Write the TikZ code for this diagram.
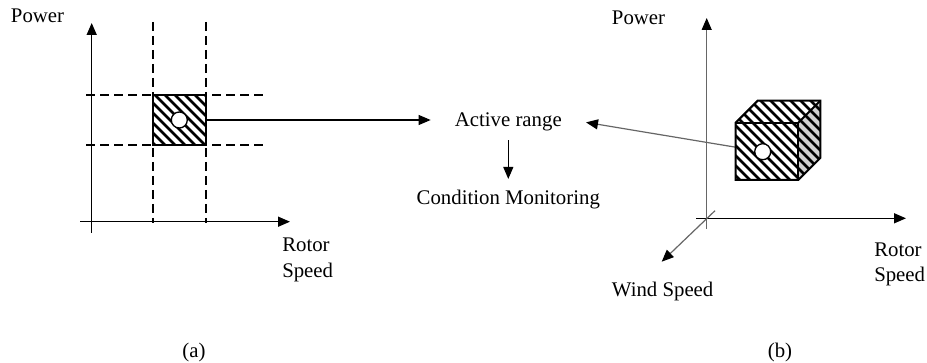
\documentclass[tikz,border=0pt]{standalone}
\usepackage{fontspec}
\setmainfont{Liberation Serif}
\usetikzlibrary{arrows.meta}
\begin{document}
\begin{tikzpicture}[x=0.75pt,y=-0.75pt,
  lbl/.style={font=\fontsize{15.6}{18}\selectfont, inner sep=0pt},
  axis/.style={line width=1.1pt,-{Triangle[length=9pt,width=7.5pt]}},
  gaxis/.style={line width=0.9pt,draw=black!60,-{Triangle[length=9pt,width=7.5pt,color=black]}},
  link/.style={line width=0.8pt,-{Triangle[length=9pt,width=7.5pt]}},
  glink/.style={line width=0.9pt,draw=black!60,-{Triangle[length=9pt,width=7.5pt,color=black]}},
  dsh/.style={line width=1.4pt,dash pattern=on 6.5pt off 4pt},
  hatch/.style={line width=2pt},
  frame/.style={line width=1.5pt},
  dot/.style={circle,draw,fill=white,line width=1pt,minimum size=12pt,inner sep=0pt}
  ]
\useasboundingbox (0,0) rectangle (927,363);

% ---------- texts ----------
\node[lbl,anchor=base west] (pa) at (10.7,22.7) {Power};
\node[lbl,anchor=base west] (ra1) at (282,252) {Rotor};
\node[lbl,anchor=base west] (ra2) at (282,277) {Speed};
\node[lbl,anchor=base] (la) at (194,357) {(a)};
\node[lbl,anchor=base west] (pb) at (611.7,25) {Power};
\node[lbl,anchor=base west] (rb1) at (874,257) {Rotor};
\node[lbl,anchor=base west] (rb2) at (874,281) {Speed};
\node[lbl,anchor=base west] (wb) at (611.7,296.7) {Wind Speed};
\node[lbl,anchor=base] (lb) at (780,357) {(b)};
\node[lbl,anchor=base,inner xsep=18pt,inner ysep=6.5pt] (ar) at (508.3,127) {Active range};
\node[lbl,anchor=base,inner ysep=8.5pt] (cm) at (508.3,205) {Condition Monitoring};

% ---------- panel (a) ----------
\coordinate (ya0) at (91.7,233);
\coordinate (ya1) at (91.7,23);
\coordinate (xa0) at (80,221.7);
\coordinate (xa1) at (290,221.7);
\draw[dsh] (152.7,22) coordinate (v1t) -- (152.7,223) coordinate (v1b);
\draw[dsh] (205.7,22) coordinate (v2t) -- (205.7,223) coordinate (v2b);
\draw[dsh] (86,95) coordinate (h1l) -- (265,95) coordinate (h1r);
\draw[dsh] (86,145) coordinate (h2l) -- (265,145) coordinate (h2r);
\draw[axis] (ya0) -- (ya1);
\draw[axis] (xa0) -- (xa1);

\coordinate (ca) at (179.3,120);
\draw[link] (ca) -- (ca -| ar.west);
\fill[white] (152.7,95) rectangle (205.7,145);
\begin{scope}
  \clip (152.7,95) rectangle (205.7,145);
  \foreach \c in {0,10,...,120} \draw[hatch] (\c+85,85) -- (\c+155,155);
\end{scope}
\draw[frame] (152.7,95) rectangle (205.7,145);
\node[dot] (cad) at (ca) {};

% ---------- centre ----------
\draw[link] (ar.south) -- (cm.north);

% ---------- panel (b) ----------
\coordinate (yb0) at (706.7,229);
\coordinate (yb1) at (706.7,18);
\coordinate (xb0) at (696,218.3);
\coordinate (xb1) at (906,218.3);
\coordinate (zb0) at (715,210.7);
\coordinate (zb1) at (661.7,261.7);
\draw[gaxis] (yb0) -- (yb1);
\draw[axis] (xb0) -- (xb1);
\draw[gaxis] (zb0) -- (zb1);

\coordinate (cb) at (762.7,151.7);
\draw[glink] (cb) -- (ar.east);

% cube
\coordinate (f1) at (735.7,122.7);
\coordinate (f2) at (798.3,122.7);
\coordinate (f3) at (798.3,180);
\coordinate (f4) at (735.7,180);
\coordinate (b1) at (757.7,100.7);
\coordinate (b2) at (820.3,100.7);
\coordinate (b3) at (820.3,158);
\fill[white] (f1) -- (f4) -- (f3) -- (f2) -- cycle;
\fill[white] (f1) -- (b1) -- (b2) -- (f2) -- cycle;
\fill[black!18] (f2) -- (b2) -- (b3) -- (f3) -- cycle;
\begin{scope}
  \clip (f1) -- (f4) -- (f3) -- (b3) -- (b2) -- (b1) -- cycle;
  \foreach \c in {540,550,...,730} \draw[hatch] (\c+90,90) -- (\c+190,190);
\end{scope}
\draw[frame,line join=miter] (f1) -- (b1) -- (b2) -- (b3) -- (f3) -- (f4) -- cycle;
\draw[frame] (f1) -- (f2) -- (f3);
\draw[frame] (f2) -- (b2);
\node[dot] (cbd) at (cb) {};
\end{tikzpicture}
\end{document}
